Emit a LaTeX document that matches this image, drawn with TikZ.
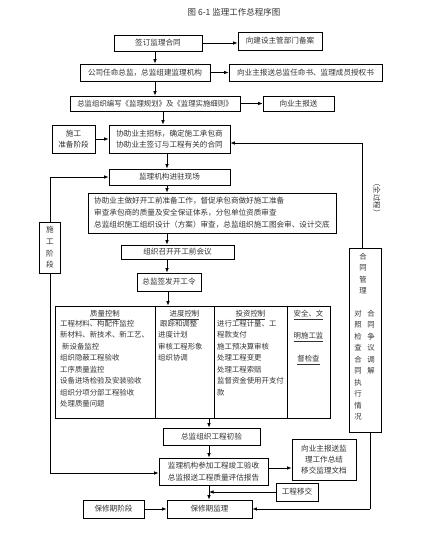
\documentclass[tikz,border=0pt]{standalone}
\usepackage{fontspec}
\setmainfont{Noto Sans CJK SC}
\usetikzlibrary{arrows.meta,calc}
\newcommand\fsA{\fontsize{7.6}{11.3}\selectfont}
\newcommand\fsB{\fontsize{7.4}{11.5}\selectfont}
\begin{document}
\begin{tikzpicture}[x=1pt,y=-1pt,
  box/.style={draw, line width=0.8pt, inner sep=1pt, align=center, font=\fsA, text=black!80},
  txt/.style={inner sep=0pt, font=\fsB, text=black!80},
  arr/.style={line width=0.8pt, -{Latex[length=4.5pt,width=3.6pt]}},
  ln/.style={line width=0.8pt}]
\useasboundingbox[fill=white] (0,0) rectangle (425,541);
\node[inner sep=0pt, font=\fontsize{8.5}{10}\selectfont, text=black!80] (title) at (234,12) {图 6-1 监理工作总程序图};
% boxes
\node[box, minimum width=88pt, minimum height=16pt] (sign) at (158,43) {签订监理合同};
\node[box, minimum width=84pt, minimum height=18pt] (beian) at (280,41) {向建设主管部门备案};
\node[box, minimum width=130pt, minimum height=17pt] (gongsi) at (145,72.5) {公司任命总监，总监组建监理机构};
\node[box, minimum width=153pt, minimum height=17pt] (renming) at (305.5,72.5) {向业主报送总监任命书、监理成员授权书};
\node[box, minimum width=170pt, minimum height=15pt, font=\fontsize{7.4}{11}\selectfont] (bianxie) at (155,103.5) {总监组织编写《监理规划》及《监理实施细则》};
\node[box, minimum width=71pt, minimum height=15pt] (baosong) at (298.5,103.5) {向业主报送};
\node[box, minimum width=43pt, minimum height=28pt] (zhunbei) at (73.5,139) {施工\\准备阶段};
\node[box, minimum width=121pt, minimum height=28pt] (xiezhu) at (169.5,139) {协助业主招标，确定施工承包商\\协助业主签订与工程有关的合同};
\node[box, minimum width=121pt, minimum height=16pt] (jinzhu) at (169.5,177) {监理机构进驻现场};
\node[box, minimum width=248pt, minimum height=40pt, align=left, font=\fontsize{7.6}{12}\selectfont] (big) at (212,213) {协助业主做好开工前准备工作，督促承包商做好施工准备\\审查承包商的质量及安全保证体系，分包单位资质审查\\总监组织施工组织设计（方案）审查，总监组织施工图会审、设计交底};
\node[box, minimum width=113pt, minimum height=14pt] (zhaokai) at (177.5,252) {组织召开开工前会议};
\node[box, minimum width=64pt, minimum height=18pt] (qianfa) at (169,282) {总监签发开工令};
\node[box, minimum width=275pt, minimum height=112pt] (ctrl) at (192.5,362) {};
\node[box, minimum width=97pt, minimum height=17pt] (chuyan) at (211.5,436.5) {总监组织工程初验};
\node[box, minimum width=109pt, minimum height=27pt] (jungong) at (213.5,471.5) {监理机构参加工程竣工验收\\总监报送工程质量评估报告};
\node[box, minimum width=64pt, minimum height=41pt] (zongjie) at (324,459.5) {向业主报送监\\理工作总结\\移交监理文档};
\node[box, minimum width=42pt, minimum height=18pt] (yijiao) at (297,492) {工程移交};
\node[box, minimum width=61pt, minimum height=18pt] (bxjd) at (113.5,509) {保修期阶段};
\node[box, minimum width=85pt, minimum height=18pt] (bxjl) at (209.5,509) {保修期监理};
\node[box, minimum width=32pt, minimum height=184pt] (hetong) at (365,340) {};
\node[box, minimum width=21pt, minimum height=51pt, font=\fontsize{7.6}{11.7}\selectfont] (shigong) at (50,247.5) {施\\工\\阶\\段};
% control columns
\draw[ln] (155,0 |- ctrl.north) -- (155,0 |- ctrl.south);
\draw[ln] (214,0 |- ctrl.north) -- (214,0 |- ctrl.south);
\draw[ln] (287,0 |- ctrl.north) -- (287,0 |- ctrl.south);
\node[txt] (c1t) at (105,315) {\underline{质量控制}};
\node[txt, anchor=north west, align=left] (c1b) at (60,320) {工程材料、构配件监控\\新材料、新技术、新工艺、\\\hspace{2pt}新设备监控\\组织隐蔽工程验收\\工序质量监控\\设备进场检验及安装验收\\组织分项分部工程验收\\处理质量问题};
\node[txt] (c2t) at (184.5,315) {\underline{进度控制}};
\node[txt, anchor=north west, align=left] (c2b) at (158,320) {\hspace{2pt}跟踪和调整\\进度计划\\审核工程形象\\组织协调};
\node[txt] (c3t) at (250.5,315) {\underline{投资控制}};
\node[txt, anchor=north west, align=left] (c3b) at (217,320) {进行工程计量、工\\程款支付\\施工预决算审核\\处理工程变更\\处理工程索赔\\监督资金使用开支付\\款};
\node[txt] (c4a) at (308.5,315) {\underline{安全、文}};
\node[txt] (c4b) at (308.5,337) {\underline{明施工监}};
\node[txt] (c4c) at (308.5,360) {\underline{督检查}};
% contract management texts
\node[txt, anchor=north, align=center] (ht1) at (363,253) {合\\同\\管\\理};
\node[txt, anchor=north, align=center] (ht2) at (358,310) {对\\照\\检\\查\\合\\同\\执\\行\\情\\况};
\node[txt, anchor=north, align=center] (ht3) at (371,310) {合\\同\\争\\议\\调\\解};
\node[txt, rotate=-90] (qgc) at (377,198) {（全过程）};
% main vertical arrows
\draw[arr] (sign.south -| 155,0) -- (gongsi.north -| 155,0);
\draw[arr] (gongsi.south -| 155,0) -- (bianxie.north -| 155,0);
\draw[arr] (bianxie.south -| 163,0) -- (xiezhu.north -| 163,0);
\draw[arr] (xiezhu.south -| 167,0) -- (jinzhu.north -| 167,0);
\draw[arr] (jinzhu.south -| 167,0) -- (big.north -| 167,0);
\draw[arr] (big.south -| 167,0) -- (zhaokai.north -| 167,0);
\draw[arr] (zhaokai.south -| 167,0) -- (qianfa.north -| 167,0);
\draw[arr] (qianfa.south -| 168,0) -- (ctrl.north -| 168,0);
\draw[arr] (ctrl.south -| 209,0) -- (chuyan.north -| 209,0);
\draw[arr] (chuyan.south -| 209,0) -- (jungong.north -| 209,0);
\draw[arr] (jungong.south -| 209,0) -- (bxjl.north -| 209,0);
% horizontal arrows
\draw[arr] (sign.east) -- (sign.east -| beian.west);
\draw[arr] (gongsi.east) -- (gongsi.east -| renming.west);
\draw[arr] (bianxie.east) -- (bianxie.east -| baosong.west);
\draw[arr] (zhunbei.east) -- (zhunbei.east -| xiezhu.west);
\draw[arr] (jungong.east |- 0,468) -- (zongjie.west |- 0,468);
\draw[arr] (yijiao.west) -- (yijiao.west -| 209,0);
\draw[arr] (bxjd.east) -- (bxjl.west);
% right long line
\coordinate (r1) at (362,143);
\draw[arr] (r1) -- (r1 -| xiezhu.east);
\draw[ln] (r1) -- (r1 |- hetong.north);
\coordinate (r2) at (370,509);
\draw[ln] (hetong.south -| r2) -- (r2);
\draw[arr] (r2) -- (bxjl.east);
% left long line
\coordinate (l1) at (50,177);
\draw[arr] (l1) -- (l1 -| jinzhu.west);
\draw[ln] (l1) -- (shigong.north);
\coordinate (l2) at (50,473);
\draw[ln] (shigong.south) -- (l2);
\draw[arr] (l2) -- (l2 -| jungong.west);
\end{tikzpicture}
\end{document}
